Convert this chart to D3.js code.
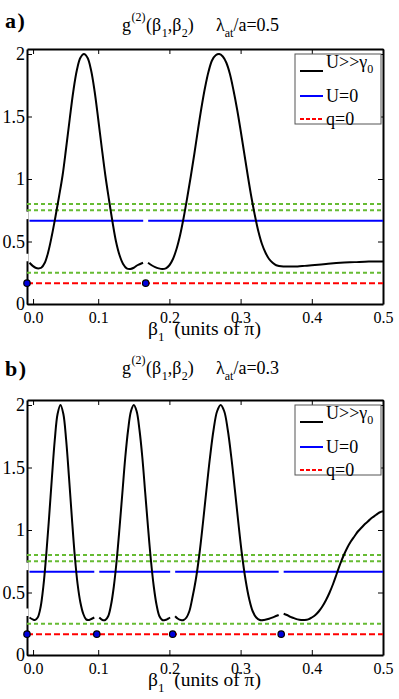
<!DOCTYPE html>
<html><head><meta charset="utf-8">
<script src="https://cdn.jsdelivr.net/npm/d3@7"></script>
</head>
<body style="margin:0;background:#fff"><svg id="c" width="399" height="699" font-family="Liberation Serif"></svg>
<script>
// ---------- data ----------
const xTickValues = [0.0085, 0.1, 0.2, 0.3, 0.4, 0.5];
const xTickLabels = ["0.0", "0.1", "0.2", "0.3", "0.4", "0.5"];
const yTickValues = [0, 0.5, 1, 1.5, 2];
const yTickLabels = ["0", "0.5", "1", "1.5", "2"];
const greenLevels = [0.25, 0.75, 0.8];
const blueLevel = 0.667;
const redLevel = 0.1667;
const gapHalf = 0.0035;
const legendLabels = ["U>>γ", "U=0", "q=0"];

// panel a (λat/a = 0.5)
const breaksA = [0, 0.1667];
const aX1 = [0.0035,0.008,0.012,0.016,0.02,0.025,0.03,0.035,0.04,0.045,0.05,0.055,0.06,0.065,0.07,0.075,0.08,0.085,0.09,0.095,0.1,0.105,0.11,0.115,0.12,0.125,0.13,0.135,0.14,0.145,0.15,0.155,0.163];
const aY1 = [0.33,0.305,0.29,0.285,0.29,0.33,0.42,0.55,0.70,0.86,1.03,1.25,1.48,1.70,1.87,1.97,2.0,1.97,1.87,1.70,1.48,1.25,1.03,0.84,0.66,0.50,0.39,0.32,0.285,0.28,0.29,0.31,0.33];
const aX2 = [0.170,0.175,0.18,0.185,0.19,0.195,0.2,0.205,0.21,0.215,0.22,0.225,0.23,0.235,0.24,0.245,0.25,0.255,0.26,0.265,0.27,0.275,0.28,0.285,0.29,0.295,0.3,0.305,0.31,0.315,0.32,0.325,0.33,0.335,0.34,0.345,0.35,0.36,0.37,0.38,0.39,0.4,0.42,0.44,0.46,0.48,0.5];
const aY2 = [0.33,0.31,0.295,0.285,0.28,0.285,0.31,0.36,0.44,0.55,0.69,0.85,1.02,1.20,1.39,1.57,1.73,1.86,1.95,1.99,2.0,1.98,1.93,1.84,1.71,1.56,1.39,1.21,1.03,0.86,0.71,0.58,0.48,0.41,0.36,0.33,0.31,0.30,0.30,0.30,0.305,0.31,0.32,0.33,0.335,0.34,0.34];

// panel b (λat/a = 0.3)
const breaksB = [0, 0.098, 0.2046, 0.357];
const bX1 = [0.0035,0.008,0.011,0.015,0.019,0.023,0.027,0.031,0.035,0.039,0.043,0.047,0.051,0.055,0.059,0.063,0.067,0.071,0.075,0.079,0.083,0.087,0.091,0.0945];
const bY1 = [0.30,0.285,0.28,0.30,0.38,0.55,0.80,1.10,1.42,1.72,1.93,2.0,1.93,1.72,1.42,1.10,0.80,0.57,0.42,0.33,0.285,0.28,0.29,0.30];
const bX2 = [0.1015,0.106,0.110,0.114,0.118,0.122,0.126,0.130,0.134,0.138,0.142,0.146,0.150,0.154,0.158,0.162,0.166,0.170,0.174,0.178,0.182,0.186,0.190,0.194,0.198,0.201];
const bY2 = [0.30,0.28,0.28,0.31,0.40,0.55,0.76,1.02,1.30,1.58,1.80,1.95,2.0,1.95,1.80,1.58,1.30,1.02,0.76,0.55,0.40,0.31,0.28,0.28,0.29,0.30];
const bX3 = [0.208,0.212,0.216,0.220,0.224,0.228,0.232,0.237,0.242,0.247,0.252,0.257,0.262,0.267,0.272,0.277,0.282,0.287,0.292,0.297,0.302,0.307,0.312,0.317,0.322,0.327,0.333,0.340,0.347,0.3535];
const bY3 = [0.31,0.29,0.28,0.28,0.30,0.35,0.45,0.60,0.80,1.05,1.32,1.58,1.80,1.95,2.0,1.95,1.80,1.58,1.32,1.05,0.80,0.60,0.45,0.35,0.30,0.28,0.28,0.29,0.305,0.32];
const bX4 = [0.3605,0.365,0.37,0.375,0.38,0.385,0.39,0.395,0.40,0.405,0.41,0.415,0.42,0.425,0.43,0.435,0.44,0.445,0.45,0.455,0.46,0.465,0.47,0.475,0.48,0.485,0.49,0.495,0.5];
const bY4 = [0.33,0.32,0.305,0.295,0.285,0.28,0.28,0.285,0.30,0.32,0.35,0.39,0.44,0.50,0.57,0.65,0.73,0.80,0.86,0.91,0.95,0.99,1.02,1.05,1.075,1.10,1.12,1.14,1.15];

// ---------- drawing ----------
const FONT = "Liberation Serif";
const panels = [
  {tag:"a)", lam:"0.5", breaks:breaksA, segs:[[aX1,aY1],[aX2,aY2]],
   top:49, bottom:304, tagY:28, titleY:31, xlabY:335},
  {tag:"b)", lam:"0.3", breaks:breaksB, segs:[[bX1,bY1],[bX2,bY2],[bX3,bY3],[bX4,bY4]],
   top:400, bottom:655, tagY:376, titleY:374, xlabY:686}
];
const L = 27, R = 383;
const svg = d3.select("#c");
svg.append("rect").attr("width",399).attr("height",699).attr("fill","#fff");

panels.forEach(p => {
  const x = d3.scaleLinear().domain([0, 0.5]).range([L, R]);
  const y = d3.scaleLinear().domain([0, 2.04]).range([p.bottom, p.top]);
  const g = svg.append("g");

  const ax = g.append("g").attr("transform", `translate(0,${p.bottom})`)
    .call(d3.axisBottom(x).tickValues(xTickValues).tickFormat((d,i)=>xTickLabels[i])
      .tickSizeInner(-5).tickSizeOuter(0).tickPadding(8));
  ax.attr("font-size", 16);
  g.append("g").attr("transform", `translate(0,${p.top})`)
    .call(d3.axisTop(x).tickValues(xTickValues).tickFormat("").tickSizeInner(-5).tickSizeOuter(0));
  const ay = g.append("g").attr("transform", `translate(${L},0)`)
    .call(d3.axisLeft(y).tickValues(yTickValues).tickFormat((d,i)=>yTickLabels[i])
      .tickSizeInner(-5).tickSizeOuter(0).tickPadding(2));
  ay.attr("font-size", 18);
  g.append("g").attr("transform", `translate(${R},0)`)
    .call(d3.axisRight(y).tickValues(yTickValues).tickFormat("").tickSizeInner(-5).tickSizeOuter(0));
  g.selectAll(".domain").attr("stroke", "#000").attr("stroke-width", 2);
  g.selectAll(".tick line").attr("stroke", "#000").attr("stroke-width", 1);

  const line = d3.line().x(d => x(d[0])).y(d => y(d[1]));

  greenLevels.forEach(v => {
    g.append("path").attr("d", line([[0, v], [0.5, v]]))
      .attr("stroke", "#66bb33").attr("stroke-width", 2).attr("stroke-dasharray", "4,3").attr("fill", "none");
  });
  g.append("path").attr("d", line([[0, redLevel], [0.5, redLevel]]))
    .attr("stroke", "#ff0000").attr("stroke-width", 2).attr("stroke-dasharray", "6,3").attr("fill", "none");

  p.breaks.forEach((b, i) => {
    const s = b + gapHalf;
    const e = i + 1 < p.breaks.length ? p.breaks[i+1] - gapHalf : 0.5;
    g.append("path").attr("d", line([[s, blueLevel], [e, blueLevel]]))
      .attr("stroke", "#0000ff").attr("stroke-width", 2).attr("fill", "none");
  });

  const cl = d3.line().x(d => x(d[0])).y(d => y(d[1])).curve(d3.curveCatmullRom);
  p.segs.forEach(([xs, ys]) => {
    g.append("path").attr("d", cl(xs.map((v, i) => [v, ys[i]])))
      .attr("stroke", "#000").attr("stroke-width", 2).attr("fill", "none");
  });

  [blueLevel, p.segs[0][1][0]].forEach(v => {
    g.append("rect").attr("x", x(0) - 1.5).attr("y", y(v) - 9).attr("width", 3).attr("height", 7.5).attr("fill", "#fff");
  });

  p.breaks.forEach(b => {
    g.append("circle").attr("cx", x(b)).attr("cy", y(redLevel)).attr("r", 3.2)
      .attr("fill", "#0000dd").attr("stroke", "#000").attr("stroke-width", 1.2);
  });

  const lg = g.append("g");
  lg.append("rect").attr("x", 295).attr("y", p.top + 5).attr("width", 86).attr("height", 70)
    .attr("fill", "#fff").attr("stroke", "#555").attr("stroke-width", 1);
  const ly = [p.top + 22, p.top + 47, p.top + 70];
  const styles = [["#000", null], ["#0000ff", null], ["#ff0000", "4,2"]];
  legendLabels.forEach((lab, i) => {
    lg.append("line").attr("x1", 300).attr("x2", 323).attr("y1", ly[i]).attr("y2", ly[i])
      .attr("stroke", styles[i][0]).attr("stroke-width", 2).attr("stroke-dasharray", styles[i][1]);
    const t = lg.append("text").attr("x", 326).attr("y", i === 0 ? ly[i] - 3 : ly[i] + 6).attr("font-size", 18);
    t.append("tspan").text(lab);
    if (i === 0) t.append("tspan").attr("font-size", 12).attr("dy", 5).text("0");
  });

  g.append("text").attr("x", 5).attr("y", p.tagY).attr("font-size", 22).attr("font-weight", "bold")
    .attr("letter-spacing", 1.5).text(p.tag);

  // title part 1: g^(2)(β1,β2)
  const ty = p.titleY;
  const t1 = g.append("text").attr("x", 122).attr("y", ty).attr("font-size", 18);
  t1.append("tspan").text("g");
  t1.append("tspan").attr("font-size", 12).attr("dy", -10).attr("dx", 0.5).text("(2)");
  t1.append("tspan").attr("dy", 10).attr("dx", 0.5).text("(β");
  t1.append("tspan").attr("font-size", 12).attr("dy", 6).attr("dx", 0.5).text("1");
  t1.append("tspan").attr("dy", -6).text(",β");
  t1.append("tspan").attr("font-size", 12).attr("dy", 6).attr("dx", 0.5).text("2");
  t1.append("tspan").attr("dy", -6).text(")");
  // title part 2: λat/a=...
  const t2 = g.append("text").attr("x", 216).attr("y", ty).attr("font-size", 18);
  t2.append("tspan").text("λ");
  t2.append("tspan").attr("font-size", 12).attr("dy", 6).text("at");
  t2.append("tspan").attr("dy", -6).text("/a=" + p.lam);

  const xl = g.append("text").attr("x", 148).attr("y", p.xlabY).attr("font-size", 19.5);
  xl.append("tspan").text("β");
  xl.append("tspan").attr("font-size", 13).attr("dy", 6).text("1");
  xl.append("tspan").attr("dy", -6).text("\u00a0\u00a0(units of π)");
});
svg.selectAll("text, g").attr("font-family", FONT);
svg.selectAll("text").attr("fill", "#000");
</script></body></html>
